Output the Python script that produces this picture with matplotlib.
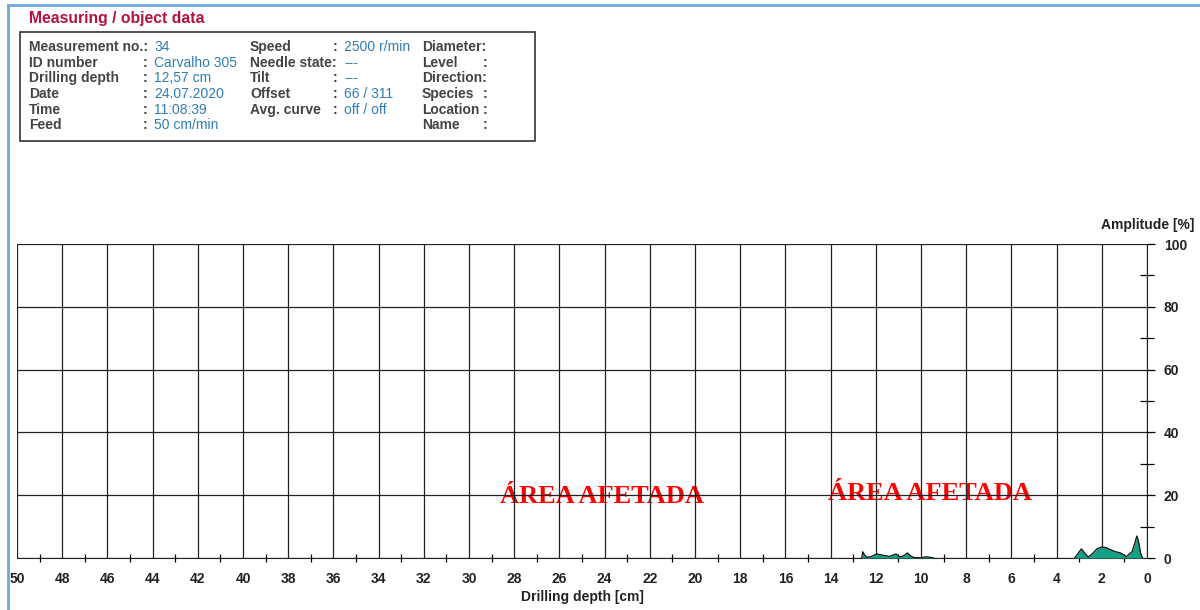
"""
Resistograph drilling profile: amplitude vs. drilling depth
with the measuring / object data header block.
"""

import matplotlib
matplotlib.use('Agg')
import matplotlib.pyplot as plt
from matplotlib.lines import Line2D
from matplotlib.patches import Rectangle

plt.rcParams['font.family'] = ['Liberation Sans', 'DejaVu Sans']

# ---------- measuring data ----------
# section 1 (near 12.6 .. 9.5 cm)
depth_a = [12.62, 12.58, 12.5, 12.4, 12.2, 11.95, 11.7, 11.4, 11.1, 10.95,
           10.8, 10.6, 10.45, 10.3, 10.0, 9.75, 9.6, 9.45]
amp_a = [0.0, 2.0, 1.0, 0.2, 0.5, 1.3, 0.9, 0.5, 1.3, 0.4,
         0.6, 1.6, 0.6, 0.1, 0.1, 0.4, 0.2, 0.0]
# section 2 (near the bark, 3.2 .. 0.2 cm)
depth_b = [3.2, 3.05, 2.9, 2.75, 2.6, 2.4, 2.2, 2.0, 1.8, 1.6, 1.4, 1.2,
           1.0, 0.92, 0.8, 0.66, 0.55, 0.45, 0.38, 0.28, 0.2]
amp_b = [0.0, 1.5, 2.9, 1.5, 0.3, 1.5, 3.0, 3.5, 3.3, 2.6, 2.0, 1.7,
         0.9, 0.4, 1.2, 2.0, 4.5, 7.0, 5.5, 1.5, 0.0]

# header block: (label, separator, value) per column
col1 = [('Measurement no.:', '', '34'), ('ID number', ':', 'Carvalho 305'),
        ('Drilling depth', ':', '12,57 cm'), ('Date', ':', '24.07.2020'),
        ('Time', ':', '11:08:39'), ('Feed', ':', '50 cm/min')]
col2 = [('Speed', ':', '2500 r/min'), ('Needle state:', '', '---'),
        ('Tilt', ':', '---'), ('Offset', ':', '66 / 311'),
        ('Avg. curve', ':', 'off / off')]
col3 = [('Diameter:', ''), ('Level', ':'), ('Direction:', ''),
        ('Species', ':'), ('Location', ':'), ('Name', ':')]

# annotations
area_labels = [(24.1, 19.5, 'ÁREA AFETADA'), (9.6, 20.4, 'ÁREA AFETADA')]

W, H = 1200, 610
fig = plt.figure(figsize=(12, 6.1), dpi=100)

def fx(px):
    return px / W

def fy(py):
    return 1 - py / H

# outer blue frame
frame_c = '#6FA8DC'
fig.add_artist(Line2D([fx(8), fx(8)], [fy(5), 0], color=frame_c, lw=2))
fig.add_artist(Line2D([fx(8), 1], [fy(5), fy(5)], color=frame_c, lw=2))

# ---------- header ----------
fig.text(fx(29), fy(18), 'Measuring / object data', color='#B3123F',
         fontsize=11.3, fontweight='bold', va='center')
fig.add_artist(Rectangle((fx(20), fy(141)), fx(535) - fx(20), fy(32) - fy(141),
                         fill=False, ec='#333333', lw=1.2))

lab_c = '#444444'
val_c = '#2F7DB5'
rows_y = [47, 63, 78, 94, 110, 125]
fs = 10
for (lab, sep, val), py in zip(col1, rows_y):
    fig.text(fx(29), fy(py), lab, color=lab_c, fontsize=fs, fontweight='bold', va='center')
    fig.text(fx(143), fy(py), sep, color=lab_c, fontsize=fs, fontweight='bold', va='center')
    fig.text(fx(154), fy(py), val, color=val_c, fontsize=fs, va='center')
for (lab, sep, val), py in zip(col2, rows_y):
    fig.text(fx(250), fy(py), lab, color=lab_c, fontsize=fs, fontweight='bold', va='center')
    fig.text(fx(333), fy(py), sep, color=lab_c, fontsize=fs, fontweight='bold', va='center')
    fig.text(fx(344), fy(py), val, color=val_c, fontsize=fs, va='center')
for (lab, sep), py in zip(col3, rows_y):
    fig.text(fx(422), fy(py), lab, color=lab_c, fontsize=fs, fontweight='bold', va='center')
    fig.text(fx(483), fy(py), sep, color=lab_c, fontsize=fs, fontweight='bold', va='center')

# ---------- profile chart ----------
ax = fig.add_axes([fx(17), fy(558), fx(1147) - fx(17), fy(244) - fy(558)])
ax.set_xlim(50, 0)
ax.set_ylim(0, 100)

fill_c = '#17A085'
for d, a in [(depth_a, amp_a), (depth_b, amp_b)]:
    ax.fill_between(d, 0, a, color=fill_c, lw=0, zorder=3)
    ax.plot(d, a, color='#111111', lw=0.9, zorder=4)

ax.set_xticks(range(0, 51, 2))
ax.set_xticks(range(1, 50, 2), minor=True)
ax.set_yticks(range(0, 101, 20))
ax.set_yticks(range(10, 100, 20), minor=True)
ax.grid(True, which='major', color='#222222', lw=0.9)

ax.yaxis.tick_right()
ax.yaxis.set_label_position('right')
for s in ['left', 'top']:
    ax.spines[s].set_visible(False)
ax.spines['right'].set_color('#222222')
ax.spines['bottom'].set_color('#222222')

ax.tick_params(axis='x', which='major', length=0, pad=10, labelsize=10)
ax.tick_params(axis='x', which='minor', direction='inout', length=6, width=0.9)
ax.tick_params(axis='y', which='major', direction='out', length=6, width=0.9,
               pad=6, labelsize=10)
ax.tick_params(axis='y', which='minor', direction='inout', length=10, width=0.9)
for lbl in ax.get_xticklabels() + ax.get_yticklabels():
    lbl.set_fontweight('bold')
    lbl.set_color('#222222')

ax.set_xlabel('Drilling depth [cm]', fontsize=10, fontweight='bold', labelpad=3,
              color='#222222')
fig.text(fx(1194), fy(225), 'Amplitude [%]', fontsize=10, fontweight='bold',
         ha='right', va='center', color='#222222')

# labels sit underneath the grid lines
for x, y, t in area_labels:
    ax.text(x, y, t, color='#FF0000', fontsize=19, fontweight='bold',
            family=['Liberation Serif', 'DejaVu Serif'], ha='center', va='center',
            zorder=0.4)

plt.savefig('out.png', dpi=100)
plt.close()
